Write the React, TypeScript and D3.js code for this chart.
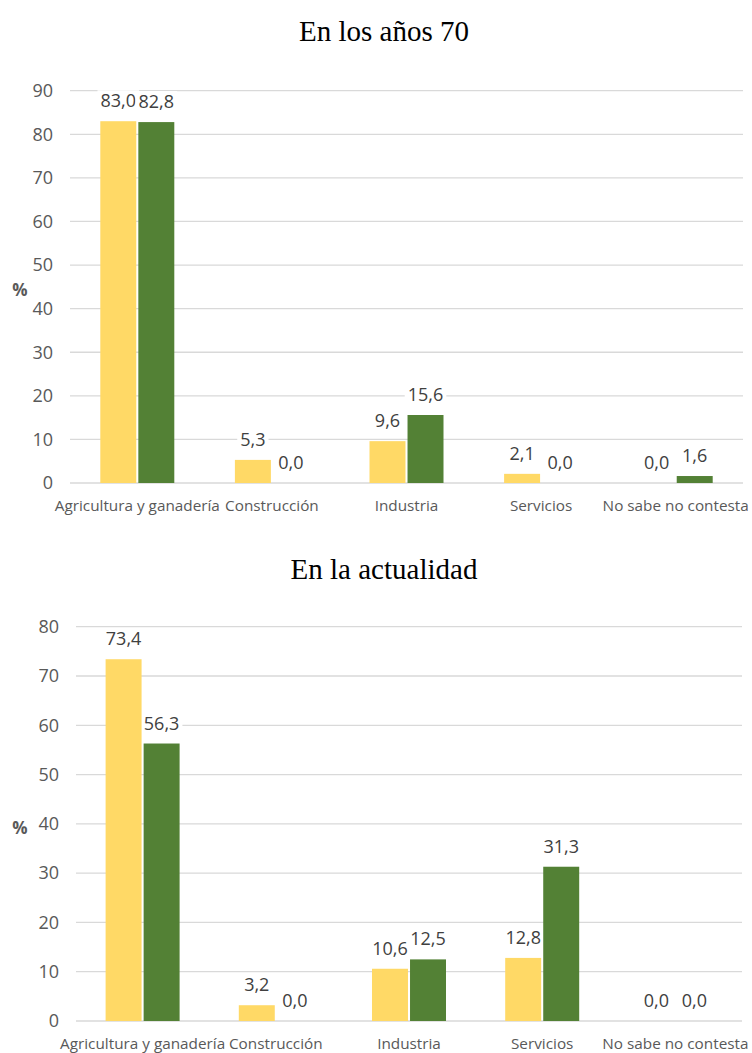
import React from 'react';
import * as d3 from 'd3';

// categories and series
const categories = ['Agricultura y ganadería', 'Construcción', 'Industria', 'Servicios', 'No sabe no contesta'];
const series = ['a', 'b'];
const años70A = [83.0, 5.3, 9.6, 2.1, 0.0];
const años70B = [82.8, 0.0, 15.6, 0.0, 1.6];
const actualA = [73.4, 3.2, 10.6, 12.8, 0.0];
const actualB = [56.3, 0.0, 12.5, 31.3, 0.0];
const ticks70 = [0, 10, 20, 30, 40, 50, 60, 70, 80, 90];
const ticksActual = [0, 10, 20, 30, 40, 50, 60, 70, 80];

const colors = ['#FFD966', '#538135'];
const font = '"Open Sans", sans-serif';
const fmt = (v: number) => v.toFixed(1).replace('.', ',');
// rough text width of a label at 18px
const labelW = (s: string) => s.split('').reduce((w, ch) => w + (ch === ',' ? 4.7 : 10.3), 0);

type ChartProps = {
  title: string;
  a: number[];
  b: number[];
  ticks: number[];
  top: number; // y of highest tick
  zero: number; // y of zero
  left: number;
  right: number;
  titleY: number;
  pctY: number;
};

const Chart = ({ title, a, b, ticks, top, zero, left, right, titleY, pctY }: ChartProps) => {
  const y = d3.scaleLinear().domain([0, d3.max(ticks)!]).range([zero, top]);
  const x = d3.scaleBand().domain(categories).range([left, right]);
  const x1 = d3.scaleBand()
    .domain(series)
    .range([x.bandwidth() / 2 - 37, x.bandwidth() / 2 + 37])
    .paddingInner(0.054);

  const rows = categories.map((c, i) => ({ c, vals: [a[i], b[i]] }));

  return (
    <g>
      <text x={384} y={titleY} textAnchor="middle" fontFamily='"Liberation Serif", serif' fontSize={29} fill="#000">
        {title}
      </text>
      {ticks.map(t => (
        <g key={t}>
          <line x1={left} x2={right} y1={y(t)} y2={y(t)} stroke="#d9d9d9" strokeWidth={1.3} />
          <text x={left - 17} y={y(t)} dy="0.35em" textAnchor="end" fontFamily={font} fontSize={18} fill="#595959">
            {t}
          </text>
        </g>
      ))}
      <text x={20} y={pctY} textAnchor="middle" fontFamily={font} fontSize={17} fontWeight="bold" fill="#595959">%</text>
      {series.map((s, j) => rows.map(r => {
        const cx = x(r.c)! + x1(s)! + x1.bandwidth() / 2;
        const v = r.vals[j];
        const w = labelW(fmt(v)) + 6;
        return (
          <g key={s + r.c}>
            <rect x={cx - w / 2} y={y(v) - 31} width={w} height={21} fill="#fff" />
            <text x={cx} y={y(v) - 14} textAnchor="middle" fontFamily={font} fontSize={18} fill="#404040">
              {fmt(v)}
            </text>
          </g>
        );
      }))}
      {rows.map(r => (
        <g key={r.c} transform={`translate(${x(r.c)},0)`}>
          {r.vals.map((v, j) => (
            <rect key={j} x={x1(series[j])} y={y(v)} width={x1.bandwidth()} height={zero - y(v)} fill={colors[j]} />
          ))}
        </g>
      ))}
      {categories.map(c => (
        <text key={c} x={x(c)! + x.bandwidth() / 2} y={zero + 28} textAnchor="middle" fontFamily={font} fontSize={15.3} fill="#595959">
          {c}
        </text>
      ))}
    </g>
  );
};

export default function App() {
  return (
    <svg width={752} height={1053} style={{ position: 'absolute', left: 0, top: 0, background: '#fff' }}>
      <rect width={752} height={1053} fill="#fff" />
      <Chart title="En los años 70" a={años70A} b={años70B} ticks={ticks70}
        top={90.7} zero={483} left={70} right={743} titleY={41} pctY={296} />
      <Chart title="En la actualidad" a={actualA} b={actualB} ticks={ticksActual}
        top={626.7} zero={1021} left={76} right={742} titleY={579} pctY={834} />
    </svg>
  );
}
